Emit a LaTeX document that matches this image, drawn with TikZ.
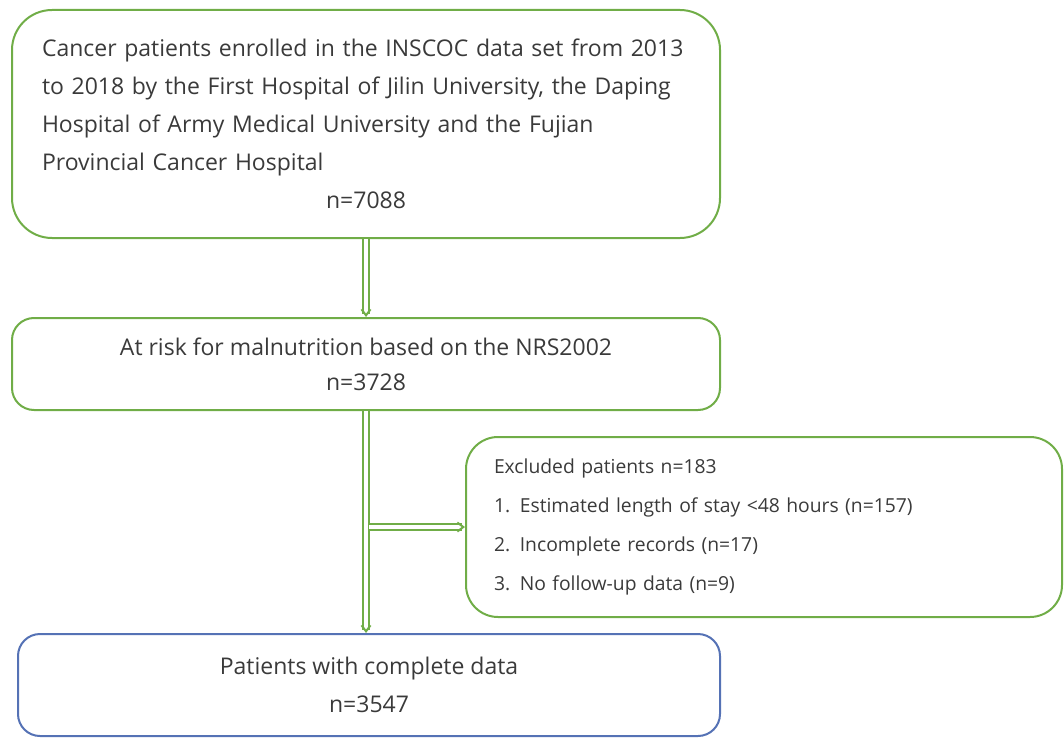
\documentclass[tikz,border=0pt]{standalone}
\usepackage{fontspec}
\setmainfont{Open Sans}
\usetikzlibrary{arrows.meta}
\definecolor{boxgreen}{HTML}{70AD47}
\definecolor{boxblue}{HTML}{5572B5}
\definecolor{txt}{HTML}{3A3A3A}
\tikzset{
  flowbox/.style={draw=boxgreen, line width=2pt, text=txt, inner sep=0pt},
  bigtext/.style={font=\fontsize{23}{38}\selectfont},
  smalltext/.style={font=\fontsize{19.3}{39}\selectfont},
  dblarrow/.style={draw=boxgreen, line width=2pt, double=white, double distance=3.5pt,
    -{Straight Barb[length=6pt,width=9pt]}},
}
\begin{document}
\begin{tikzpicture}[x=1pt,y=-1pt]
\useasboundingbox (0,0) rectangle (1064,738);
\node[flowbox, bigtext, rounded corners=40pt, minimum width=708pt, minimum height=228pt,
      text width=648pt, align=left] (enrol) at (366,124)
  {\mbox{Cancer patients enrolled in the INSCOC data set from 2013}\\
   \mbox{to 2018 by the First Hospital of Jilin University, the Daping}\\
   \mbox{Hospital of Army Medical University and the Fujian}\\
   \mbox{Provincial Cancer Hospital}\\
   \hspace*{\fill}n=7088\hspace*{\fill}};
\node[flowbox, font=\fontsize{23}{35}\selectfont, rounded corners=22pt, minimum width=708pt, minimum height=92pt,
      align=center] (risk) at (366,364)
  {At risk for malnutrition based on the NRS2002\\ n=3728};
\node[flowbox, smalltext, rounded corners=32pt, minimum width=596pt, minimum height=180pt,
      text width=540pt, align=left] (excl) at (764,527)
  {Excluded patients n=183\\
   1. Estimated length of stay <48 hours (n=157)\\
   2. Incomplete records (n=17)\\
   3. No follow-up data (n=9)};
\node[flowbox, draw=boxblue, bigtext, rounded corners=22pt, minimum width=702pt, minimum height=102pt,
      align=center] (final) at (369,685)
  {Patients with complete data\\ n=3547};
\draw[dblarrow] (enrol.south -| 366,0) -- (risk.north -| 366,0);
\draw[dblarrow] (risk.south -| 366,0) -- (final.north -| 366,0);
\coordinate (branch) at (369,527);
\draw[dblarrow] (branch) -- (excl.west);
\end{tikzpicture}
\end{document}
